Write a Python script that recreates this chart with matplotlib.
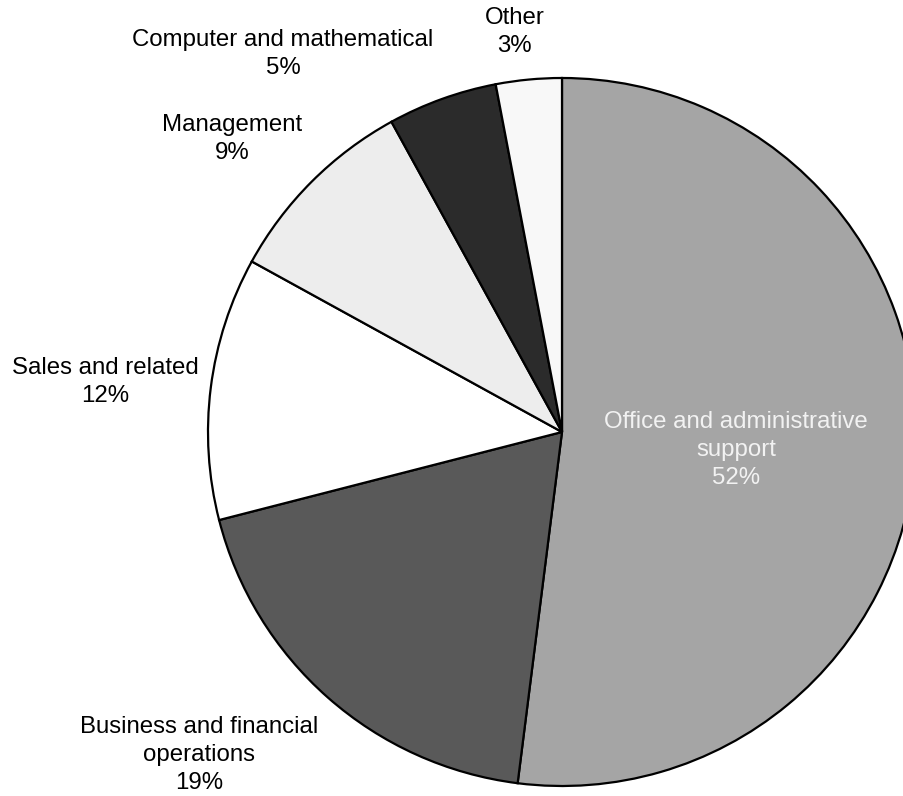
import matplotlib
matplotlib.use("Agg")
import matplotlib.pyplot as plt

plt.rcParams['font.family'] = ['Liberation Sans', 'DejaVu Sans']

labels = ['Office and administrative\nsupport', 'Business and financial\noperations',
          'Sales and related', 'Management', 'Computer and mathematical', 'Other']
shares = [52, 19, 12, 9, 5, 3]
colors = ['#a5a5a5', '#595959', '#ffffff', '#ededed', '#2b2b2b', '#f8f8f8']
text_colors = ['#f2f2f2', 'black', 'black', 'black', 'black', 'black']
# label centres in pie-radius units
label_pos = [(0.492, -0.051), (-1.025, -0.912), (-1.291, 0.141),
             (-0.932, 0.828), (-0.788, 1.068), (-0.133, 1.13)]

fig = plt.figure(figsize=(9.04, 7.96), dpi=100)
ax = fig.add_axes([0, 0, 1, 1])

ax.pie(shares, colors=colors, startangle=90, counterclock=False,
       wedgeprops={'edgecolor': 'black', 'linewidth': 1.6})

for lab, val, (x, y), tc in zip(labels, shares, label_pos, text_colors):
    ax.text(x, y, f"{lab}\n{val}%", ha='center', va='center', fontsize=17.3,
            color=tc, linespacing=1.37)

ax.set_aspect('equal')
ax.set_xlim(-562 / 354, (904 - 562) / 354)
ax.set_ylim((432 - 796) / 354, 432 / 354)
ax.axis('off')

fig.savefig('out.png', dpi=100)
